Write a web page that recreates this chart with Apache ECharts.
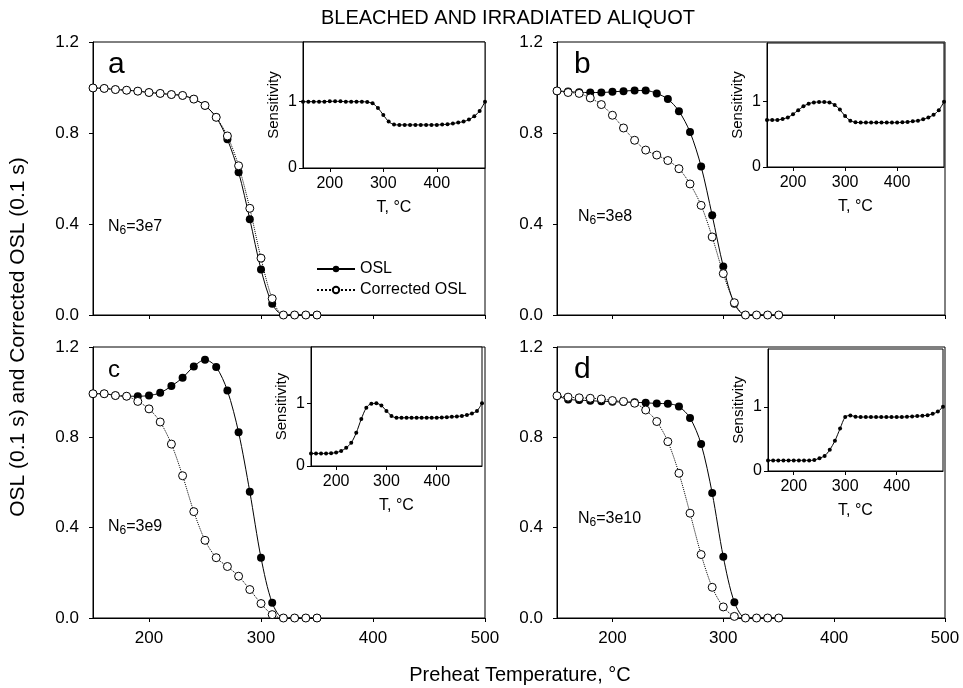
<!DOCTYPE html>
<html>
<head>
<meta charset="utf-8">
<script src="https://cdn.jsdelivr.net/npm/echarts@6/dist/echarts.min.js"></script>
<style>
  html, body { margin: 0; padding: 0; background: #fff; }
  #main { width: 963px; height: 688px; }
</style>
</head>
<body>
<div id="main"></div>
<script>
// preheat temperatures (main panels) and sensitivity temperatures (insets)
var temps = [150, 160, 170, 180, 190, 200, 210, 220, 230, 240, 250, 260, 270, 280, 290, 300, 310, 320, 330, 340, 350]
var sensTemps = [150, 160, 170, 180, 190, 200, 210, 220, 230, 240, 250, 260, 270, 280, 290, 300, 310, 320,
  330, 340, 350, 360, 370, 380, 390, 400, 410, 420, 430, 440, 450, 460, 470, 480, 490]

var oslA = [0.998, 0.996, 0.991, 0.988, 0.984, 0.978, 0.974, 0.969, 0.965, 0.949, 0.921, 0.869, 0.772, 0.628, 0.421, 0.200, 0.049, 0, 0, 0, 0]
var corrA = [0.998, 0.996, 0.991, 0.988, 0.984, 0.978, 0.974, 0.969, 0.965, 0.949, 0.921, 0.869, 0.787, 0.656, 0.469, 0.250, 0.072, 0, 0, 0, 0]
var oslB = [0.985, 0.982, 0.979, 0.978, 0.978, 0.981, 0.984, 0.987, 0.987, 0.974, 0.949, 0.896, 0.804, 0.653, 0.438, 0.213, 0.050, 0, 0, 0, 0]
var corrB = [0.985, 0.978, 0.974, 0.954, 0.925, 0.878, 0.822, 0.768, 0.725, 0.703, 0.679, 0.643, 0.576, 0.482, 0.343, 0.182, 0.054, 0, 0, 0, 0]
var oslC = [0.993, 0.993, 0.985, 0.982, 0.982, 0.985, 0.997, 1.027, 1.064, 1.114, 1.144, 1.111, 1.007, 0.822, 0.559, 0.267, 0.067, 0, 0, 0, 0]
var corrC = [0.993, 0.993, 0.985, 0.982, 0.959, 0.926, 0.868, 0.770, 0.630, 0.471, 0.344, 0.267, 0.228, 0.185, 0.126, 0.064, 0.015, 0, 0, 0, 0]
var oslD = [0.984, 0.968, 0.965, 0.962, 0.960, 0.958, 0.956, 0.955, 0.953, 0.950, 0.949, 0.936, 0.886, 0.770, 0.553, 0.271, 0.070, 0, 0, 0, 0]
var corrD = [0.984, 0.978, 0.975, 0.973, 0.970, 0.963, 0.959, 0.951, 0.921, 0.870, 0.781, 0.641, 0.464, 0.281, 0.136, 0.049, 0.007, 0, 0, 0, 0]

var sensA = [1.0, 1.0, 1.0, 1.0, 1.0, 1.005, 1.005, 1.005, 1.0, 1.0, 1.0, 1.0, 0.995, 0.975, 0.905, 0.80, 0.70, 0.655,
  0.65, 0.65, 0.65, 0.65, 0.65, 0.65, 0.65, 0.65, 0.655, 0.66, 0.67, 0.685, 0.70, 0.73, 0.78, 0.86, 1.0]
var sensB = [0.72, 0.72, 0.72, 0.735, 0.76, 0.81, 0.87, 0.93, 0.97, 0.99, 0.995, 0.995, 0.99, 0.95, 0.88, 0.78, 0.71, 0.685,
  0.68, 0.68, 0.68, 0.68, 0.68, 0.68, 0.68, 0.68, 0.685, 0.69, 0.70, 0.71, 0.73, 0.76, 0.80, 0.87, 1.0]
var sensC = [0.20, 0.20, 0.20, 0.20, 0.205, 0.215, 0.24, 0.29, 0.37, 0.53, 0.75, 0.93, 0.995, 1.0, 0.965, 0.88, 0.80, 0.77,
  0.77, 0.77, 0.77, 0.77, 0.77, 0.77, 0.77, 0.77, 0.775, 0.78, 0.785, 0.79, 0.80, 0.815, 0.84, 0.88, 1.0]
var sensD = [0.165, 0.165, 0.165, 0.165, 0.165, 0.165, 0.165, 0.165, 0.165, 0.17, 0.20, 0.235, 0.33, 0.47, 0.66, 0.84, 0.865, 0.845,
  0.84, 0.84, 0.84, 0.84, 0.84, 0.84, 0.84, 0.84, 0.84, 0.845, 0.85, 0.855, 0.86, 0.87, 0.89, 0.925, 1.0]

var mainXLabels = [200, 300, 400, 500]
var mainYTicks = [0, 0.4, 0.8, 1.2]
var insetXLabels = [200, 300, 400]
var insetYLabels = [0, 1]

var panelLetters = ['a', 'b', 'c', 'd']
var doseLabels = ['3e7', '3e8', '3e9', '3e10']

var FONT = 'Liberation Sans, Arial, sans-serif'

function pairs(xs, ys) {
  return xs.map(function(x, i) { return [x, ys[i]] })
}

var panels = [
  { osl: oslA, corr: corrA, sens: sensA, grid: { left: 93, top: 42, width: 392, height: 273 }, inset: { left: 303, top: 42, width: 182, height: 126 } },
  { osl: oslB, corr: corrB, sens: sensB, grid: { left: 557, top: 42, width: 388, height: 273 }, inset: { left: 767, top: 43, width: 177, height: 124 } },
  { osl: oslC, corr: corrC, sens: sensC, grid: { left: 93, top: 347, width: 392, height: 271 }, inset: { left: 311, top: 347, width: 171, height: 119 } },
  { osl: oslD, corr: corrD, sens: sensD, grid: { left: 557, top: 347, width: 388, height: 271 }, inset: { left: 768, top: 349, width: 175, height: 122 } }
]

var grids = []
var xAxes = []
var yAxes = []
var series = []

panels.forEach(function(p, i) {
  var bottomRow = i >= 2
  // main panel
  grids.push(Object.assign({ show: true, borderColor: '#000', borderWidth: 1, backgroundColor: '#fff' }, p.grid))
  xAxes.push({
    type: 'value', gridIndex: grids.length - 1, min: 150, max: 500,
    splitLine: { show: false },
    axisLine: { lineStyle: { color: '#000', width: 1 } },
    axisTick: { length: 4, lineStyle: { color: '#000' }, customValues: mainXLabels },
    axisLabel: { show: bottomRow, customValues: mainXLabels, color: '#000', fontSize: 17, fontFamily: FONT, margin: 12 }
  })
  yAxes.push({
    type: 'value', gridIndex: grids.length - 1, min: 0, max: 1.2,
    splitLine: { show: false },
    axisLine: { lineStyle: { color: '#000', width: 1 } },
    axisTick: { length: 4, lineStyle: { color: '#000' }, customValues: mainYTicks },
    axisLabel: {
      customValues: mainYTicks, color: '#000', fontSize: 17, fontFamily: FONT, margin: 14,
      formatter: function(v) { return v.toFixed(1) }
    }
  })
  var mi = xAxes.length - 1
  series.push({
    name: 'OSL', type: 'line', xAxisIndex: mi, yAxisIndex: mi,
    data: pairs(temps, p.osl), smooth: 0.3,
    symbol: 'circle', symbolSize: 8,
    itemStyle: { color: '#000' },
    lineStyle: { color: '#000', width: 1 },
    z: 3
  })
  series.push({
    name: 'Corrected OSL', type: 'line', xAxisIndex: mi, yAxisIndex: mi,
    data: pairs(temps, p.corr), smooth: 0.3,
    symbol: 'circle', symbolSize: 8, showAllSymbol: true,
    itemStyle: { color: '#fff', borderColor: '#000', borderWidth: 1 },
    lineStyle: { color: '#000', width: 1, type: 'dotted' },
    z: 4
  })

  // sensitivity inset
  grids.push(Object.assign({ show: true, borderColor: '#000', borderWidth: 1, backgroundColor: '#fff', z: 5 }, p.inset))
  xAxes.push({
    type: 'value', gridIndex: grids.length - 1, min: 150, max: 490, z: 6,
    name: 'T, °C', nameLocation: 'middle', nameGap: 32,
    nameTextStyle: { color: '#000', fontSize: 16, fontFamily: FONT },
    splitLine: { show: false },
    axisLine: { lineStyle: { color: '#000', width: 1 } },
    axisTick: { length: 4, lineStyle: { color: '#000' }, customValues: insetXLabels },
    axisLabel: { customValues: insetXLabels, color: '#000', fontSize: 16, fontFamily: FONT, margin: 8 }
  })
  yAxes.push({
    type: 'value', gridIndex: grids.length - 1, min: 0, max: 1.9, z: 6,
    name: 'Sensitivity', nameLocation: 'middle', nameGap: 22,
    nameTextStyle: { color: '#000', fontSize: 15, fontFamily: FONT },
    splitLine: { show: false },
    axisLine: { lineStyle: { color: '#000', width: 1 } },
    axisTick: { length: 4, lineStyle: { color: '#000' }, customValues: insetYLabels },
    axisLabel: { customValues: insetYLabels, color: '#000', fontSize: 16, fontFamily: FONT, margin: 6 }
  })
  var ii = xAxes.length - 1
  series.push({
    name: 'Sensitivity', type: 'line', xAxisIndex: ii, yAxisIndex: ii,
    data: pairs(sensTemps, p.sens), smooth: 0.3,
    symbol: 'circle', symbolSize: 4,
    itemStyle: { color: '#000' },
    lineStyle: { color: '#000', width: 1 },
    z: 7
  })
})

var letterPos = [[108, 50, 30], [574, 50, 30], [108, 358, 24], [574, 355, 30]]
var dosePos = [[108, 216], [578, 206], [108, 516], [578, 508]]

var graphics = [
  { type: 'text', x: 508, y: 8, style: { text: 'BLEACHED AND IRRADIATED ALIQUOT', fill: '#000', font: '20px ' + FONT, align: 'center', verticalAlign: 'top' } },
  { type: 'text', x: 8, y: 337, rotation: Math.PI / 2, style: { text: 'OSL (0.1 s) and Corrected OSL (0.1 s)', fill: '#000', font: '21px ' + FONT, align: 'center', verticalAlign: 'top' } },
  { type: 'text', x: 520, y: 665, style: { text: 'Preheat Temperature, °C', fill: '#000', font: '20px ' + FONT, align: 'center', verticalAlign: 'top' } }
]
panelLetters.forEach(function(l, i) {
  graphics.push({ type: 'text', x: letterPos[i][0], y: letterPos[i][1], z: 10,
    style: { text: l, fill: '#000', font: letterPos[i][2] + 'px ' + FONT } })
  graphics.push({ type: 'text', x: dosePos[i][0], y: dosePos[i][1], z: 10,
    style: {
      text: '{n|N}{s|6}{n|=' + doseLabels[i] + '}',
      rich: {
        n: { fontSize: 16, fontFamily: FONT, fill: '#000' },
        s: { fontSize: 12, fontFamily: FONT, fill: '#000', padding: [9, 0, 0, 0] }
      }
    } })
})

var myChart = echarts.init(document.getElementById('main'))
var option = {
  animation: false,
  backgroundColor: '#fff',
  textStyle: { fontFamily: FONT },
  legend: {
    data: ['OSL', 'Corrected OSL'],
    orient: 'vertical', left: 311, top: 256,
    itemWidth: 38, itemHeight: 8, itemGap: 5,
    textStyle: { color: '#000', fontSize: 16, fontFamily: FONT }
  },
  grid: grids,
  xAxis: xAxes,
  yAxis: yAxes,
  series: series,
  graphic: graphics
}
myChart.setOption(option)
</script>
</body>
</html>
